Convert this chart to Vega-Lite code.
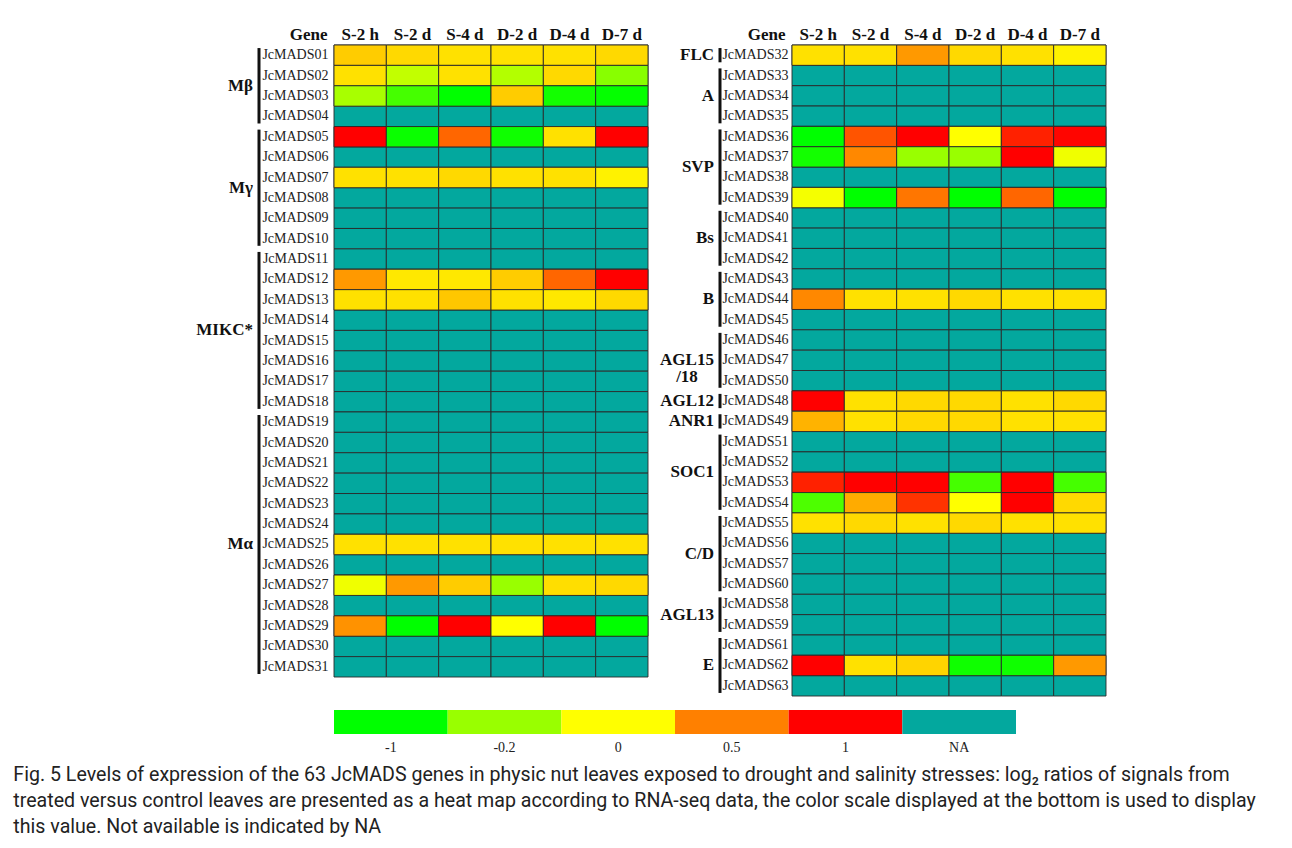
{
  "$schema": "https://vega.github.io/schema/vega-lite/v6.json",
  "padding": {"left": 13, "top": 25, "right": 5, "bottom": 10},
  "config": {"view": {"stroke": null}, "font": "Liberation Serif"},
  "title": {
    "text": ["Fig. 5 Levels of expression of the 63 JcMADS genes in physic nut leaves exposed to drought and salinity stresses: log₂ ratios of signals from", "treated versus control leaves are presented as a heat map according to RNA-seq data, the color scale displayed at the bottom is used to display", "this value. Not available is indicated by NA"],
    "orient": "bottom", "anchor": "start", "frame": "bounds", "dx": -183, "offset": 12,
    "font": "Roboto", "fontSize": 19.6, "fontWeight": "normal", "lineHeight": 26, "color": "#222"
  },
  "datasets": {
    "left": [
      {"g":"JcMADS01","c":"S-2 h","v":0.2},{"g":"JcMADS01","c":"S-2 d","v":0.15},{"g":"JcMADS01","c":"S-4 d","v":0.12},{"g":"JcMADS01","c":"D-2 d","v":0.12},{"g":"JcMADS01","c":"D-4 d","v":0.12},{"g":"JcMADS01","c":"D-7 d","v":0.15},
      {"g":"JcMADS02","c":"S-2 h","v":0.12},{"g":"JcMADS02","c":"S-2 d","v":-0.12},{"g":"JcMADS02","c":"S-4 d","v":0.12},{"g":"JcMADS02","c":"D-2 d","v":-0.15},{"g":"JcMADS02","c":"D-4 d","v":0.15},{"g":"JcMADS02","c":"D-7 d","v":-0.29},
      {"g":"JcMADS03","c":"S-2 h","v":-0.17},{"g":"JcMADS03","c":"S-2 d","v":-0.64},{"g":"JcMADS03","c":"S-4 d","v":-1},{"g":"JcMADS03","c":"D-2 d","v":0.2},{"g":"JcMADS03","c":"D-4 d","v":-0.9},{"g":"JcMADS03","c":"D-7 d","v":-0.98},
      {"g":"JcMADS04","c":"S-2 h","v":null},{"g":"JcMADS04","c":"S-2 d","v":null},{"g":"JcMADS04","c":"S-4 d","v":null},{"g":"JcMADS04","c":"D-2 d","v":null},{"g":"JcMADS04","c":"D-4 d","v":null},{"g":"JcMADS04","c":"D-7 d","v":null},
      {"g":"JcMADS05","c":"S-2 h","v":1},{"g":"JcMADS05","c":"S-2 d","v":-0.95},{"g":"JcMADS05","c":"S-4 d","v":0.6},{"g":"JcMADS05","c":"D-2 d","v":-0.92},{"g":"JcMADS05","c":"D-4 d","v":0.12},{"g":"JcMADS05","c":"D-7 d","v":1},
      {"g":"JcMADS06","c":"S-2 h","v":null},{"g":"JcMADS06","c":"S-2 d","v":null},{"g":"JcMADS06","c":"S-4 d","v":null},{"g":"JcMADS06","c":"D-2 d","v":null},{"g":"JcMADS06","c":"D-4 d","v":null},{"g":"JcMADS06","c":"D-7 d","v":null},
      {"g":"JcMADS07","c":"S-2 h","v":0.12},{"g":"JcMADS07","c":"S-2 d","v":0.12},{"g":"JcMADS07","c":"S-4 d","v":0.15},{"g":"JcMADS07","c":"D-2 d","v":0.12},{"g":"JcMADS07","c":"D-4 d","v":0.12},{"g":"JcMADS07","c":"D-7 d","v":0.05},
      {"g":"JcMADS08","c":"S-2 h","v":null},{"g":"JcMADS08","c":"S-2 d","v":null},{"g":"JcMADS08","c":"S-4 d","v":null},{"g":"JcMADS08","c":"D-2 d","v":null},{"g":"JcMADS08","c":"D-4 d","v":null},{"g":"JcMADS08","c":"D-7 d","v":null},
      {"g":"JcMADS09","c":"S-2 h","v":null},{"g":"JcMADS09","c":"S-2 d","v":null},{"g":"JcMADS09","c":"S-4 d","v":null},{"g":"JcMADS09","c":"D-2 d","v":null},{"g":"JcMADS09","c":"D-4 d","v":null},{"g":"JcMADS09","c":"D-7 d","v":null},
      {"g":"JcMADS10","c":"S-2 h","v":null},{"g":"JcMADS10","c":"S-2 d","v":null},{"g":"JcMADS10","c":"S-4 d","v":null},{"g":"JcMADS10","c":"D-2 d","v":null},{"g":"JcMADS10","c":"D-4 d","v":null},{"g":"JcMADS10","c":"D-7 d","v":null},
      {"g":"JcMADS11","c":"S-2 h","v":null},{"g":"JcMADS11","c":"S-2 d","v":null},{"g":"JcMADS11","c":"S-4 d","v":null},{"g":"JcMADS11","c":"D-2 d","v":null},{"g":"JcMADS11","c":"D-4 d","v":null},{"g":"JcMADS11","c":"D-7 d","v":null},
      {"g":"JcMADS12","c":"S-2 h","v":0.4},{"g":"JcMADS12","c":"S-2 d","v":0.09},{"g":"JcMADS12","c":"S-4 d","v":0.09},{"g":"JcMADS12","c":"D-2 d","v":0.2},{"g":"JcMADS12","c":"D-4 d","v":0.6},{"g":"JcMADS12","c":"D-7 d","v":1},
      {"g":"JcMADS13","c":"S-2 h","v":0.12},{"g":"JcMADS13","c":"S-2 d","v":0.12},{"g":"JcMADS13","c":"S-4 d","v":0.22},{"g":"JcMADS13","c":"D-2 d","v":0.12},{"g":"JcMADS13","c":"D-4 d","v":0.09},{"g":"JcMADS13","c":"D-7 d","v":0.15},
      {"g":"JcMADS14","c":"S-2 h","v":null},{"g":"JcMADS14","c":"S-2 d","v":null},{"g":"JcMADS14","c":"S-4 d","v":null},{"g":"JcMADS14","c":"D-2 d","v":null},{"g":"JcMADS14","c":"D-4 d","v":null},{"g":"JcMADS14","c":"D-7 d","v":null},
      {"g":"JcMADS15","c":"S-2 h","v":null},{"g":"JcMADS15","c":"S-2 d","v":null},{"g":"JcMADS15","c":"S-4 d","v":null},{"g":"JcMADS15","c":"D-2 d","v":null},{"g":"JcMADS15","c":"D-4 d","v":null},{"g":"JcMADS15","c":"D-7 d","v":null},
      {"g":"JcMADS16","c":"S-2 h","v":null},{"g":"JcMADS16","c":"S-2 d","v":null},{"g":"JcMADS16","c":"S-4 d","v":null},{"g":"JcMADS16","c":"D-2 d","v":null},{"g":"JcMADS16","c":"D-4 d","v":null},{"g":"JcMADS16","c":"D-7 d","v":null},
      {"g":"JcMADS17","c":"S-2 h","v":null},{"g":"JcMADS17","c":"S-2 d","v":null},{"g":"JcMADS17","c":"S-4 d","v":null},{"g":"JcMADS17","c":"D-2 d","v":null},{"g":"JcMADS17","c":"D-4 d","v":null},{"g":"JcMADS17","c":"D-7 d","v":null},
      {"g":"JcMADS18","c":"S-2 h","v":null},{"g":"JcMADS18","c":"S-2 d","v":null},{"g":"JcMADS18","c":"S-4 d","v":null},{"g":"JcMADS18","c":"D-2 d","v":null},{"g":"JcMADS18","c":"D-4 d","v":null},{"g":"JcMADS18","c":"D-7 d","v":null},
      {"g":"JcMADS19","c":"S-2 h","v":null},{"g":"JcMADS19","c":"S-2 d","v":null},{"g":"JcMADS19","c":"S-4 d","v":null},{"g":"JcMADS19","c":"D-2 d","v":null},{"g":"JcMADS19","c":"D-4 d","v":null},{"g":"JcMADS19","c":"D-7 d","v":null},
      {"g":"JcMADS20","c":"S-2 h","v":null},{"g":"JcMADS20","c":"S-2 d","v":null},{"g":"JcMADS20","c":"S-4 d","v":null},{"g":"JcMADS20","c":"D-2 d","v":null},{"g":"JcMADS20","c":"D-4 d","v":null},{"g":"JcMADS20","c":"D-7 d","v":null},
      {"g":"JcMADS21","c":"S-2 h","v":null},{"g":"JcMADS21","c":"S-2 d","v":null},{"g":"JcMADS21","c":"S-4 d","v":null},{"g":"JcMADS21","c":"D-2 d","v":null},{"g":"JcMADS21","c":"D-4 d","v":null},{"g":"JcMADS21","c":"D-7 d","v":null},
      {"g":"JcMADS22","c":"S-2 h","v":null},{"g":"JcMADS22","c":"S-2 d","v":null},{"g":"JcMADS22","c":"S-4 d","v":null},{"g":"JcMADS22","c":"D-2 d","v":null},{"g":"JcMADS22","c":"D-4 d","v":null},{"g":"JcMADS22","c":"D-7 d","v":null},
      {"g":"JcMADS23","c":"S-2 h","v":null},{"g":"JcMADS23","c":"S-2 d","v":null},{"g":"JcMADS23","c":"S-4 d","v":null},{"g":"JcMADS23","c":"D-2 d","v":null},{"g":"JcMADS23","c":"D-4 d","v":null},{"g":"JcMADS23","c":"D-7 d","v":null},
      {"g":"JcMADS24","c":"S-2 h","v":null},{"g":"JcMADS24","c":"S-2 d","v":null},{"g":"JcMADS24","c":"S-4 d","v":null},{"g":"JcMADS24","c":"D-2 d","v":null},{"g":"JcMADS24","c":"D-4 d","v":null},{"g":"JcMADS24","c":"D-7 d","v":null},
      {"g":"JcMADS25","c":"S-2 h","v":0.12},{"g":"JcMADS25","c":"S-2 d","v":0.12},{"g":"JcMADS25","c":"S-4 d","v":0.12},{"g":"JcMADS25","c":"D-2 d","v":0.12},{"g":"JcMADS25","c":"D-4 d","v":0.12},{"g":"JcMADS25","c":"D-7 d","v":0.12},
      {"g":"JcMADS26","c":"S-2 h","v":null},{"g":"JcMADS26","c":"S-2 d","v":null},{"g":"JcMADS26","c":"S-4 d","v":null},{"g":"JcMADS26","c":"D-2 d","v":null},{"g":"JcMADS26","c":"D-4 d","v":null},{"g":"JcMADS26","c":"D-7 d","v":null},
      {"g":"JcMADS27","c":"S-2 h","v":-0.03},{"g":"JcMADS27","c":"S-2 d","v":0.4},{"g":"JcMADS27","c":"S-4 d","v":0.2},{"g":"JcMADS27","c":"D-2 d","v":-0.2},{"g":"JcMADS27","c":"D-4 d","v":0.13},{"g":"JcMADS27","c":"D-7 d","v":0.15},
      {"g":"JcMADS28","c":"S-2 h","v":null},{"g":"JcMADS28","c":"S-2 d","v":null},{"g":"JcMADS28","c":"S-4 d","v":null},{"g":"JcMADS28","c":"D-2 d","v":null},{"g":"JcMADS28","c":"D-4 d","v":null},{"g":"JcMADS28","c":"D-7 d","v":null},
      {"g":"JcMADS29","c":"S-2 h","v":0.43},{"g":"JcMADS29","c":"S-2 d","v":-1},{"g":"JcMADS29","c":"S-4 d","v":1},{"g":"JcMADS29","c":"D-2 d","v":0},{"g":"JcMADS29","c":"D-4 d","v":1},{"g":"JcMADS29","c":"D-7 d","v":-1},
      {"g":"JcMADS30","c":"S-2 h","v":null},{"g":"JcMADS30","c":"S-2 d","v":null},{"g":"JcMADS30","c":"S-4 d","v":null},{"g":"JcMADS30","c":"D-2 d","v":null},{"g":"JcMADS30","c":"D-4 d","v":null},{"g":"JcMADS30","c":"D-7 d","v":null},
      {"g":"JcMADS31","c":"S-2 h","v":null},{"g":"JcMADS31","c":"S-2 d","v":null},{"g":"JcMADS31","c":"S-4 d","v":null},{"g":"JcMADS31","c":"D-2 d","v":null},{"g":"JcMADS31","c":"D-4 d","v":null},{"g":"JcMADS31","c":"D-7 d","v":null}
    ],
    "right": [
      {"g":"JcMADS32","c":"S-2 h","v":0.12},{"g":"JcMADS32","c":"S-2 d","v":0.12},{"g":"JcMADS32","c":"S-4 d","v":0.4},{"g":"JcMADS32","c":"D-2 d","v":0.15},{"g":"JcMADS32","c":"D-4 d","v":0.12},{"g":"JcMADS32","c":"D-7 d","v":0.05},
      {"g":"JcMADS33","c":"S-2 h","v":null},{"g":"JcMADS33","c":"S-2 d","v":null},{"g":"JcMADS33","c":"S-4 d","v":null},{"g":"JcMADS33","c":"D-2 d","v":null},{"g":"JcMADS33","c":"D-4 d","v":null},{"g":"JcMADS33","c":"D-7 d","v":null},
      {"g":"JcMADS34","c":"S-2 h","v":null},{"g":"JcMADS34","c":"S-2 d","v":null},{"g":"JcMADS34","c":"S-4 d","v":null},{"g":"JcMADS34","c":"D-2 d","v":null},{"g":"JcMADS34","c":"D-4 d","v":null},{"g":"JcMADS34","c":"D-7 d","v":null},
      {"g":"JcMADS35","c":"S-2 h","v":null},{"g":"JcMADS35","c":"S-2 d","v":null},{"g":"JcMADS35","c":"S-4 d","v":null},{"g":"JcMADS35","c":"D-2 d","v":null},{"g":"JcMADS35","c":"D-4 d","v":null},{"g":"JcMADS35","c":"D-7 d","v":null},
      {"g":"JcMADS36","c":"S-2 h","v":-1},{"g":"JcMADS36","c":"S-2 d","v":0.67},{"g":"JcMADS36","c":"S-4 d","v":1},{"g":"JcMADS36","c":"D-2 d","v":0},{"g":"JcMADS36","c":"D-4 d","v":0.87},{"g":"JcMADS36","c":"D-7 d","v":0.98},
      {"g":"JcMADS37","c":"S-2 h","v":-0.9},{"g":"JcMADS37","c":"S-2 d","v":0.47},{"g":"JcMADS37","c":"S-4 d","v":-0.2},{"g":"JcMADS37","c":"D-2 d","v":-0.2},{"g":"JcMADS37","c":"D-4 d","v":1},{"g":"JcMADS37","c":"D-7 d","v":-0.03},
      {"g":"JcMADS38","c":"S-2 h","v":null},{"g":"JcMADS38","c":"S-2 d","v":null},{"g":"JcMADS38","c":"S-4 d","v":null},{"g":"JcMADS38","c":"D-2 d","v":null},{"g":"JcMADS38","c":"D-4 d","v":null},{"g":"JcMADS38","c":"D-7 d","v":null},
      {"g":"JcMADS39","c":"S-2 h","v":-0.02},{"g":"JcMADS39","c":"S-2 d","v":-1},{"g":"JcMADS39","c":"S-4 d","v":0.54},{"g":"JcMADS39","c":"D-2 d","v":-1},{"g":"JcMADS39","c":"D-4 d","v":0.6},{"g":"JcMADS39","c":"D-7 d","v":-1},
      {"g":"JcMADS40","c":"S-2 h","v":null},{"g":"JcMADS40","c":"S-2 d","v":null},{"g":"JcMADS40","c":"S-4 d","v":null},{"g":"JcMADS40","c":"D-2 d","v":null},{"g":"JcMADS40","c":"D-4 d","v":null},{"g":"JcMADS40","c":"D-7 d","v":null},
      {"g":"JcMADS41","c":"S-2 h","v":null},{"g":"JcMADS41","c":"S-2 d","v":null},{"g":"JcMADS41","c":"S-4 d","v":null},{"g":"JcMADS41","c":"D-2 d","v":null},{"g":"JcMADS41","c":"D-4 d","v":null},{"g":"JcMADS41","c":"D-7 d","v":null},
      {"g":"JcMADS42","c":"S-2 h","v":null},{"g":"JcMADS42","c":"S-2 d","v":null},{"g":"JcMADS42","c":"S-4 d","v":null},{"g":"JcMADS42","c":"D-2 d","v":null},{"g":"JcMADS42","c":"D-4 d","v":null},{"g":"JcMADS42","c":"D-7 d","v":null},
      {"g":"JcMADS43","c":"S-2 h","v":null},{"g":"JcMADS43","c":"S-2 d","v":null},{"g":"JcMADS43","c":"S-4 d","v":null},{"g":"JcMADS43","c":"D-2 d","v":null},{"g":"JcMADS43","c":"D-4 d","v":null},{"g":"JcMADS43","c":"D-7 d","v":null},
      {"g":"JcMADS44","c":"S-2 h","v":0.47},{"g":"JcMADS44","c":"S-2 d","v":0.12},{"g":"JcMADS44","c":"S-4 d","v":0.12},{"g":"JcMADS44","c":"D-2 d","v":0.15},{"g":"JcMADS44","c":"D-4 d","v":0.12},{"g":"JcMADS44","c":"D-7 d","v":0.12},
      {"g":"JcMADS45","c":"S-2 h","v":null},{"g":"JcMADS45","c":"S-2 d","v":null},{"g":"JcMADS45","c":"S-4 d","v":null},{"g":"JcMADS45","c":"D-2 d","v":null},{"g":"JcMADS45","c":"D-4 d","v":null},{"g":"JcMADS45","c":"D-7 d","v":null},
      {"g":"JcMADS46","c":"S-2 h","v":null},{"g":"JcMADS46","c":"S-2 d","v":null},{"g":"JcMADS46","c":"S-4 d","v":null},{"g":"JcMADS46","c":"D-2 d","v":null},{"g":"JcMADS46","c":"D-4 d","v":null},{"g":"JcMADS46","c":"D-7 d","v":null},
      {"g":"JcMADS47","c":"S-2 h","v":null},{"g":"JcMADS47","c":"S-2 d","v":null},{"g":"JcMADS47","c":"S-4 d","v":null},{"g":"JcMADS47","c":"D-2 d","v":null},{"g":"JcMADS47","c":"D-4 d","v":null},{"g":"JcMADS47","c":"D-7 d","v":null},
      {"g":"JcMADS50","c":"S-2 h","v":null},{"g":"JcMADS50","c":"S-2 d","v":null},{"g":"JcMADS50","c":"S-4 d","v":null},{"g":"JcMADS50","c":"D-2 d","v":null},{"g":"JcMADS50","c":"D-4 d","v":null},{"g":"JcMADS50","c":"D-7 d","v":null},
      {"g":"JcMADS48","c":"S-2 h","v":1},{"g":"JcMADS48","c":"S-2 d","v":0.12},{"g":"JcMADS48","c":"S-4 d","v":0.15},{"g":"JcMADS48","c":"D-2 d","v":0.15},{"g":"JcMADS48","c":"D-4 d","v":0.12},{"g":"JcMADS48","c":"D-7 d","v":0.15},
      {"g":"JcMADS49","c":"S-2 h","v":0.3},{"g":"JcMADS49","c":"S-2 d","v":0.12},{"g":"JcMADS49","c":"S-4 d","v":0.15},{"g":"JcMADS49","c":"D-2 d","v":0.15},{"g":"JcMADS49","c":"D-4 d","v":0.12},{"g":"JcMADS49","c":"D-7 d","v":0.12},
      {"g":"JcMADS51","c":"S-2 h","v":null},{"g":"JcMADS51","c":"S-2 d","v":null},{"g":"JcMADS51","c":"S-4 d","v":null},{"g":"JcMADS51","c":"D-2 d","v":null},{"g":"JcMADS51","c":"D-4 d","v":null},{"g":"JcMADS51","c":"D-7 d","v":null},
      {"g":"JcMADS52","c":"S-2 h","v":null},{"g":"JcMADS52","c":"S-2 d","v":null},{"g":"JcMADS52","c":"S-4 d","v":null},{"g":"JcMADS52","c":"D-2 d","v":null},{"g":"JcMADS52","c":"D-4 d","v":null},{"g":"JcMADS52","c":"D-7 d","v":null},
      {"g":"JcMADS53","c":"S-2 h","v":0.87},{"g":"JcMADS53","c":"S-2 d","v":1},{"g":"JcMADS53","c":"S-4 d","v":1},{"g":"JcMADS53","c":"D-2 d","v":-0.64},{"g":"JcMADS53","c":"D-4 d","v":1},{"g":"JcMADS53","c":"D-7 d","v":-0.64},
      {"g":"JcMADS54","c":"S-2 h","v":-0.6},{"g":"JcMADS54","c":"S-2 d","v":0.33},{"g":"JcMADS54","c":"S-4 d","v":0.8},{"g":"JcMADS54","c":"D-2 d","v":0},{"g":"JcMADS54","c":"D-4 d","v":1},{"g":"JcMADS54","c":"D-7 d","v":0.15},
      {"g":"JcMADS55","c":"S-2 h","v":0.12},{"g":"JcMADS55","c":"S-2 d","v":0.15},{"g":"JcMADS55","c":"S-4 d","v":0.12},{"g":"JcMADS55","c":"D-2 d","v":0.15},{"g":"JcMADS55","c":"D-4 d","v":0.12},{"g":"JcMADS55","c":"D-7 d","v":0.12},
      {"g":"JcMADS56","c":"S-2 h","v":null},{"g":"JcMADS56","c":"S-2 d","v":null},{"g":"JcMADS56","c":"S-4 d","v":null},{"g":"JcMADS56","c":"D-2 d","v":null},{"g":"JcMADS56","c":"D-4 d","v":null},{"g":"JcMADS56","c":"D-7 d","v":null},
      {"g":"JcMADS57","c":"S-2 h","v":null},{"g":"JcMADS57","c":"S-2 d","v":null},{"g":"JcMADS57","c":"S-4 d","v":null},{"g":"JcMADS57","c":"D-2 d","v":null},{"g":"JcMADS57","c":"D-4 d","v":null},{"g":"JcMADS57","c":"D-7 d","v":null},
      {"g":"JcMADS60","c":"S-2 h","v":null},{"g":"JcMADS60","c":"S-2 d","v":null},{"g":"JcMADS60","c":"S-4 d","v":null},{"g":"JcMADS60","c":"D-2 d","v":null},{"g":"JcMADS60","c":"D-4 d","v":null},{"g":"JcMADS60","c":"D-7 d","v":null},
      {"g":"JcMADS58","c":"S-2 h","v":null},{"g":"JcMADS58","c":"S-2 d","v":null},{"g":"JcMADS58","c":"S-4 d","v":null},{"g":"JcMADS58","c":"D-2 d","v":null},{"g":"JcMADS58","c":"D-4 d","v":null},{"g":"JcMADS58","c":"D-7 d","v":null},
      {"g":"JcMADS59","c":"S-2 h","v":null},{"g":"JcMADS59","c":"S-2 d","v":null},{"g":"JcMADS59","c":"S-4 d","v":null},{"g":"JcMADS59","c":"D-2 d","v":null},{"g":"JcMADS59","c":"D-4 d","v":null},{"g":"JcMADS59","c":"D-7 d","v":null},
      {"g":"JcMADS61","c":"S-2 h","v":null},{"g":"JcMADS61","c":"S-2 d","v":null},{"g":"JcMADS61","c":"S-4 d","v":null},{"g":"JcMADS61","c":"D-2 d","v":null},{"g":"JcMADS61","c":"D-4 d","v":null},{"g":"JcMADS61","c":"D-7 d","v":null},
      {"g":"JcMADS62","c":"S-2 h","v":1},{"g":"JcMADS62","c":"S-2 d","v":0.12},{"g":"JcMADS62","c":"S-4 d","v":0.17},{"g":"JcMADS62","c":"D-2 d","v":-0.92},{"g":"JcMADS62","c":"D-4 d","v":-0.92},{"g":"JcMADS62","c":"D-7 d","v":0.4},
      {"g":"JcMADS63","c":"S-2 h","v":null},{"g":"JcMADS63","c":"S-2 d","v":null},{"g":"JcMADS63","c":"S-4 d","v":null},{"g":"JcMADS63","c":"D-2 d","v":null},{"g":"JcMADS63","c":"D-4 d","v":null},{"g":"JcMADS63","c":"D-7 d","v":null}
    ],
    "lgroups": [
      {"group":"Mβ","first":"JcMADS01","last":"JcMADS04","mid":"JcMADS03","n":4},
      {"group":"Mγ","first":"JcMADS05","last":"JcMADS10","mid":"JcMADS08","n":6},
      {"group":"MIKC*","first":"JcMADS11","last":"JcMADS18","mid":"JcMADS15","n":8},
      {"group":"Mα","first":"JcMADS19","last":"JcMADS31","mid":"JcMADS25","n":13}
    ],
    "rgroups": [
      {"group":"FLC","first":"JcMADS32","last":"JcMADS32","mid":"JcMADS32","n":1},
      {"group":"A","first":"JcMADS33","last":"JcMADS35","mid":"JcMADS34","n":3},
      {"group":"SVP","first":"JcMADS36","last":"JcMADS39","mid":"JcMADS38","n":4},
      {"group":"Bs","first":"JcMADS40","last":"JcMADS42","mid":"JcMADS41","n":3},
      {"group":"B","first":"JcMADS43","last":"JcMADS45","mid":"JcMADS44","n":3},
      {"group":"AGL15|/18","first":"JcMADS46","last":"JcMADS50","mid":"JcMADS47","n":3},
      {"group":"AGL12","first":"JcMADS48","last":"JcMADS48","mid":"JcMADS48","n":1},
      {"group":"ANR1","first":"JcMADS49","last":"JcMADS49","mid":"JcMADS49","n":1},
      {"group":"SOC1","first":"JcMADS51","last":"JcMADS54","mid":"JcMADS53","n":4},
      {"group":"C/D","first":"JcMADS55","last":"JcMADS60","mid":"JcMADS57","n":4},
      {"group":"AGL13","first":"JcMADS58","last":"JcMADS59","mid":"JcMADS59","n":2},
      {"group":"E","first":"JcMADS61","last":"JcMADS63","mid":"JcMADS62","n":3}
    ],
    "legend": [{"label":"-1"},{"label":"-0.2"},{"label":"0"},{"label":"0.5"},{"label":"1"},{"label":"NA"}]
  },
  "spacing": 13,
  "resolve": {"scale": {"color": "independent"}},
  "vconcat": [
    {
      "bounds": "flush",
      "spacing": 70,
      "hconcat": [
        {
          "width": 10, "height": 632,
          "data": {"name": "lgroups"},
          "layer": [
            {"mark": {"type": "rule", "strokeWidth": 3, "color": "#111"},
             "encoding": {"y": {"field": "first", "type": "nominal", "bandPosition": 0.15, "axis": null,
                "scale": {"type": "band", "paddingInner": 0, "paddingOuter": 0, "domain": ["JcMADS01","JcMADS02","JcMADS03","JcMADS04","JcMADS05","JcMADS06","JcMADS07","JcMADS08","JcMADS09","JcMADS10","JcMADS11","JcMADS12","JcMADS13","JcMADS14","JcMADS15","JcMADS16","JcMADS17","JcMADS18","JcMADS19","JcMADS20","JcMADS21","JcMADS22","JcMADS23","JcMADS24","JcMADS25","JcMADS26","JcMADS27","JcMADS28","JcMADS29","JcMADS30","JcMADS31"]}},
               "y2": {"field": "last", "bandPosition": 0.85}}},
            {"transform": [{"filter": "datum.n % 2 == 1"}],
             "mark": {"type": "text", "align": "right", "baseline": "middle", "dx": -6, "font": "Liberation Serif", "fontWeight": "bold", "fontSize": 17, "color": "#111"},
             "encoding": {"y": {"field": "mid", "type": "nominal", "bandPosition": 0.5, "axis": null}, "text": {"field": "group"}}},
            {"transform": [{"filter": "datum.n % 2 == 0"}],
             "mark": {"type": "text", "align": "right", "baseline": "middle", "dx": -6, "font": "Liberation Serif", "fontWeight": "bold", "fontSize": 17, "color": "#111"},
             "encoding": {"y": {"field": "mid", "type": "nominal", "bandPosition": 0, "axis": null}, "text": {"field": "group"}}}
          ]
        },
        {
          "width": 314, "height": 632,
          "data": {"name": "left"},
          "encoding": {
            "x": {"field": "c", "type": "nominal", "sort": null, "scale": {"domain": ["S-2 h","S-2 d","S-4 d","D-2 d","D-4 d","D-7 d"]},
              "axis": {"orient": "top", "title": null, "labelAngle": 0, "labelFont": "Liberation Serif", "labelFontWeight": "bold", "labelFontSize": 17, "labelColor": "#111", "ticks": false, "tickSize": 0, "domain": false, "labelPadding": 6, "labelBaseline": "alphabetic"}},
            "y": {"field": "g", "type": "nominal", "sort": null,
              "scale": {"domain": ["JcMADS01","JcMADS02","JcMADS03","JcMADS04","JcMADS05","JcMADS06","JcMADS07","JcMADS08","JcMADS09","JcMADS10","JcMADS11","JcMADS12","JcMADS13","JcMADS14","JcMADS15","JcMADS16","JcMADS17","JcMADS18","JcMADS19","JcMADS20","JcMADS21","JcMADS22","JcMADS23","JcMADS24","JcMADS25","JcMADS26","JcMADS27","JcMADS28","JcMADS29","JcMADS30","JcMADS31"]},
              "axis": {"title": "Gene", "titleAngle": 0, "titleAlign": "right", "titleBaseline": "alphabetic", "titleX": -7, "titleY": -6, "titleFont": "Liberation Serif", "titleFontSize": 17, "titleFontWeight": "bold", "titleColor": "#111",
                "labelFont": "Liberation Serif", "labelFontSize": 14, "labelColor": "#222", "ticks": false, "tickSize": 0, "domain": false, "labelPadding": 6}}
          },
          "layer": [
            {"mark": {"type": "rect", "fill": "#03a89e", "stroke": "#2a2a2a", "strokeWidth": 0.9}},
            {"transform": [{"filter": "datum.v !== null"}],
             "mark": {"type": "rect", "stroke": "#2a2a2a", "strokeWidth": 0.9},
             "encoding": {"color": {"field": "v", "type": "quantitative", "legend": null,
               "scale": {"domain": [-1, -0.2, 0, 0.5, 1], "range": ["#00ff00", "#99ff00", "#ffff00", "#ff8000", "#ff0000"], "interpolate": "rgb"}}}}
          ]
        },
        {
          "width": 4, "height": 651,
          "data": {"name": "rgroups"},
          "layer": [
            {"mark": {"type": "rule", "strokeWidth": 3, "color": "#111"},
             "encoding": {"y": {"field": "first", "type": "nominal", "bandPosition": 0.15, "axis": null,
                "scale": {"type": "band", "paddingInner": 0, "paddingOuter": 0, "domain": ["JcMADS32","JcMADS33","JcMADS34","JcMADS35","JcMADS36","JcMADS37","JcMADS38","JcMADS39","JcMADS40","JcMADS41","JcMADS42","JcMADS43","JcMADS44","JcMADS45","JcMADS46","JcMADS47","JcMADS50","JcMADS48","JcMADS49","JcMADS51","JcMADS52","JcMADS53","JcMADS54","JcMADS55","JcMADS56","JcMADS57","JcMADS60","JcMADS58","JcMADS59","JcMADS61","JcMADS62","JcMADS63"]}},
               "y2": {"field": "last", "bandPosition": 0.85}}},
            {"transform": [{"filter": "datum.n % 2 == 1 && datum.group != 'AGL15|/18'"}],
             "mark": {"type": "text", "align": "right", "baseline": "middle", "dx": -6, "font": "Liberation Serif", "fontWeight": "bold", "fontSize": 17, "color": "#111"},
             "encoding": {"y": {"field": "mid", "type": "nominal", "bandPosition": 0.5, "axis": null}, "text": {"field": "group"}}},
            {"transform": [{"filter": "datum.n % 2 == 0"}],
             "mark": {"type": "text", "align": "right", "baseline": "middle", "dx": -6, "font": "Liberation Serif", "fontWeight": "bold", "fontSize": 17, "color": "#111"},
             "encoding": {"y": {"field": "mid", "type": "nominal", "bandPosition": 0, "axis": null}, "text": {"field": "group"}}},
            {"transform": [{"filter": "datum.group == 'AGL15|/18'"}],
             "mark": {"type": "text", "align": "center", "baseline": "middle", "dx": -33, "lineBreak": "|", "lineHeight": 17, "font": "Liberation Serif", "fontWeight": "bold", "fontSize": 17, "color": "#111"},
             "encoding": {"y": {"field": "mid", "type": "nominal", "bandPosition": 0.5, "axis": null}, "text": {"field": "group"}}}
          ]
        },
        {
          "width": 314, "height": 651,
          "data": {"name": "right"},
          "encoding": {
            "x": {"field": "c", "type": "nominal", "sort": null, "scale": {"domain": ["S-2 h","S-2 d","S-4 d","D-2 d","D-4 d","D-7 d"]},
              "axis": {"orient": "top", "title": null, "labelAngle": 0, "labelFont": "Liberation Serif", "labelFontWeight": "bold", "labelFontSize": 17, "labelColor": "#111", "ticks": false, "tickSize": 0, "domain": false, "labelPadding": 6, "labelBaseline": "alphabetic"}},
            "y": {"field": "g", "type": "nominal", "sort": null,
              "scale": {"domain": ["JcMADS32","JcMADS33","JcMADS34","JcMADS35","JcMADS36","JcMADS37","JcMADS38","JcMADS39","JcMADS40","JcMADS41","JcMADS42","JcMADS43","JcMADS44","JcMADS45","JcMADS46","JcMADS47","JcMADS50","JcMADS48","JcMADS49","JcMADS51","JcMADS52","JcMADS53","JcMADS54","JcMADS55","JcMADS56","JcMADS57","JcMADS60","JcMADS58","JcMADS59","JcMADS61","JcMADS62","JcMADS63"]},
              "axis": {"title": "Gene", "titleAngle": 0, "titleAlign": "right", "titleBaseline": "alphabetic", "titleX": -7, "titleY": -6, "titleFont": "Liberation Serif", "titleFontSize": 17, "titleFontWeight": "bold", "titleColor": "#111",
                "labelFont": "Liberation Serif", "labelFontSize": 14, "labelColor": "#222", "ticks": false, "tickSize": 0, "domain": false, "labelPadding": 4}}
          },
          "layer": [
            {"mark": {"type": "rect", "fill": "#03a89e", "stroke": "#2a2a2a", "strokeWidth": 0.9}},
            {"transform": [{"filter": "datum.v !== null"}],
             "mark": {"type": "rect", "stroke": "#2a2a2a", "strokeWidth": 0.9},
             "encoding": {"color": {"field": "v", "type": "quantitative", "legend": null,
               "scale": {"domain": [-1, -0.2, 0, 0.5, 1], "range": ["#00ff00", "#99ff00", "#ffff00", "#ff8000", "#ff0000"], "interpolate": "rgb"}}}}
          ]
        }
      ]
    },
    {
      "bounds": "flush",
      "spacing": 70,
      "hconcat": [
        {
          "width": 10, "height": 24,
          "data": {"values": [{"blank": ""}]},
          "mark": {"type": "text", "opacity": 0},
          "encoding": {"text": {"field": "blank"}}
        },
        {
          "width": 682, "height": 24,
          "data": {"name": "legend"},
          "mark": {"type": "rect"},
          "encoding": {
            "x": {"field": "label", "type": "nominal", "sort": null, "scale": {"paddingInner": 0, "paddingOuter": 0},
              "axis": {"title": null, "orient": "bottom", "labelAngle": 0, "ticks": false, "tickSize": 0, "domain": false, "labelFont": "Liberation Serif", "labelFontSize": 14, "labelPadding": 6, "labelColor": "#222"}},
            "fill": {"field": "label", "type": "nominal", "sort": null, "legend": null,
              "scale": {"domain": ["-1","-0.2","0","0.5","1","NA"], "range": ["#00ff00", "#99ff00", "#ffff00", "#ff8000", "#ff0000", "#03a89e"]}}
          }
        }
      ]
    }
  ]
}
